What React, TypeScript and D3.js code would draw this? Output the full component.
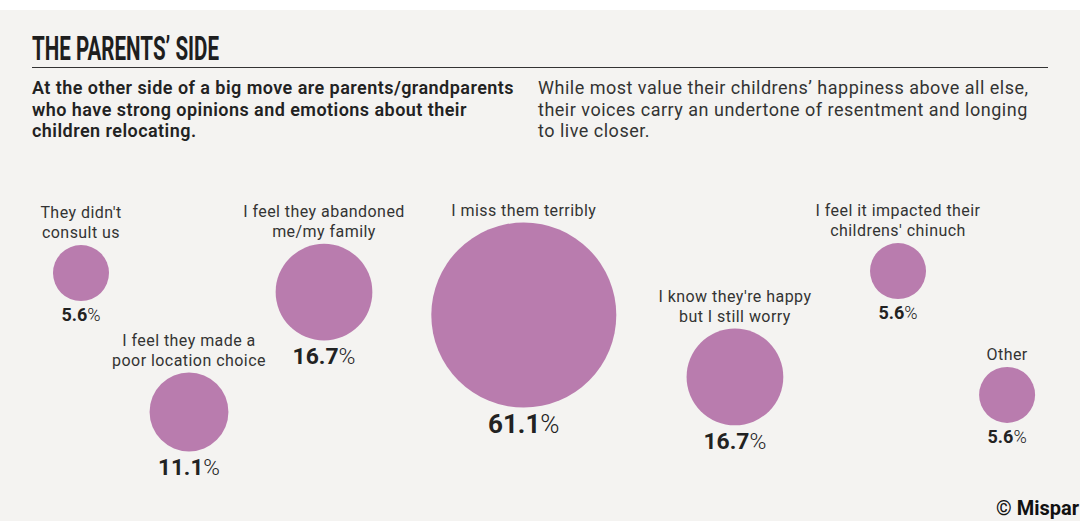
import React from "react";
import * as d3 from "d3";

const W = 1080;
const H = 521;

// Data
const categories: string[][] = [
  ["They didn't", "consult us"],
  ["I feel they made a", "poor location choice"],
  ["I feel they abandoned", "me/my family"],
  ["I miss them terribly"],
  ["I know they're happy", "but I still worry"],
  ["I feel it impacted their", "childrens' chinuch"],
  ["Other"],
];
const values: number[] = [5.6, 11.1, 16.7, 61.1, 16.7, 5.6, 5.6];

// Layout (relative units, mapped through scales)
const layoutX: number[] = [0.075, 0.175, 0.3, 0.485, 0.6805, 0.8315, 0.9325];
const layoutY: number[] = [0.261, 0.757, 0.329, 0.411, 0.632, 0.254, 0.696];

const title = "THE PARENTS\u2019 SIDE";
const introLeft: string[] = [
  "At the other side of a big move are parents/grandparents",
  "who have strong opinions and emotions about their",
  "children relocating.",
];
const introRight: string[] = [
  "While most value their childrens\u2019 happiness above all else,",
  "their voices carry an undertone of resentment and longing",
  "to live closer.",
];
const credit = "\u00a9 Mispar";

const FILL = "#b97cae";
const BG = "#f4f3f1";
const FONT = "Roboto, 'Noto Sans', sans-serif";

export default function App() {
  const x = d3.scaleLinear().domain([0, 1]).range([0, W]);
  const y = d3.scaleLinear().domain([0, 1]).range([200, 480]);
  const r = d3.scaleSqrt().domain([0, d3.max(values) as number]).range([0, 92.5]);
  const fs = d3
    .scaleLinear()
    .domain([5.6, 11.1, 61.1])
    .range([18, 22.5, 26])
    .clamp(true);
  const fmt = d3.format(".1f");

  return (
    <svg
      width={W}
      height={H}
      style={{ position: "absolute", left: 0, top: 0, display: "block" }}
      fontFamily={FONT}
    >
      <rect x={0} y={0} width={W} height={H} fill="#ffffff" />
      <rect x={0} y={10} width={W} height={H - 10} fill={BG} />

      <text
        x={32}
        y={60}
        fontSize={33}
        fontWeight={700}
        fill="#1e1e1e"
        textLength={187}
        lengthAdjust="spacingAndGlyphs"
      >
        {title}
      </text>
      <line x1={32} x2={1048} y1={67.5} y2={67.5} stroke="#333" strokeWidth={1.2} />

      {introLeft.map((t, i) => (
        <text
          key={"l" + i}
          x={32}
          y={94 + i * 21.5}
          fontSize={18}
          fontWeight={600}
          letterSpacing={0.45}
          fill="#222"
        >
          {t}
        </text>
      ))}
      {introRight.map((t, i) => (
        <text
          key={"r" + i}
          x={538}
          y={94 + i * 21.5}
          fontSize={18}
          fontWeight={400}
          letterSpacing={0.5}
          fill="#333"
        >
          {t}
        </text>
      ))}

      {values.map((v, i) => {
        const cx = x(layoutX[i]);
        const cy = y(layoutY[i]);
        const rr = r(v);
        const lines = categories[i];
        const f = fs(v);
        return (
          <g key={i}>
            <circle cx={cx} cy={cy} r={rr} fill={FILL} />
            {lines.map((t, j) => (
              <text
                key={j}
                x={cx}
                y={cy - rr - 7 - (lines.length - 1 - j) * 20}
                textAnchor="middle"
                fontSize={16}
                letterSpacing={0.45}
                fill="#333"
              >
                {t}
              </text>
            ))}
            <text
              x={cx}
              y={cy + rr + f * 0.72 + 7}
              textAnchor="middle"
              fontSize={f}
              fill="#222"
            >
              <tspan fontWeight={700}>{fmt(v)}</tspan>
              <tspan fontWeight={300}>%</tspan>
            </text>
          </g>
        );
      })}

      <text x={996} y={515} fontSize={20} fontWeight={700} fill="#111">
        {credit}
      </text>
    </svg>
  );
}
